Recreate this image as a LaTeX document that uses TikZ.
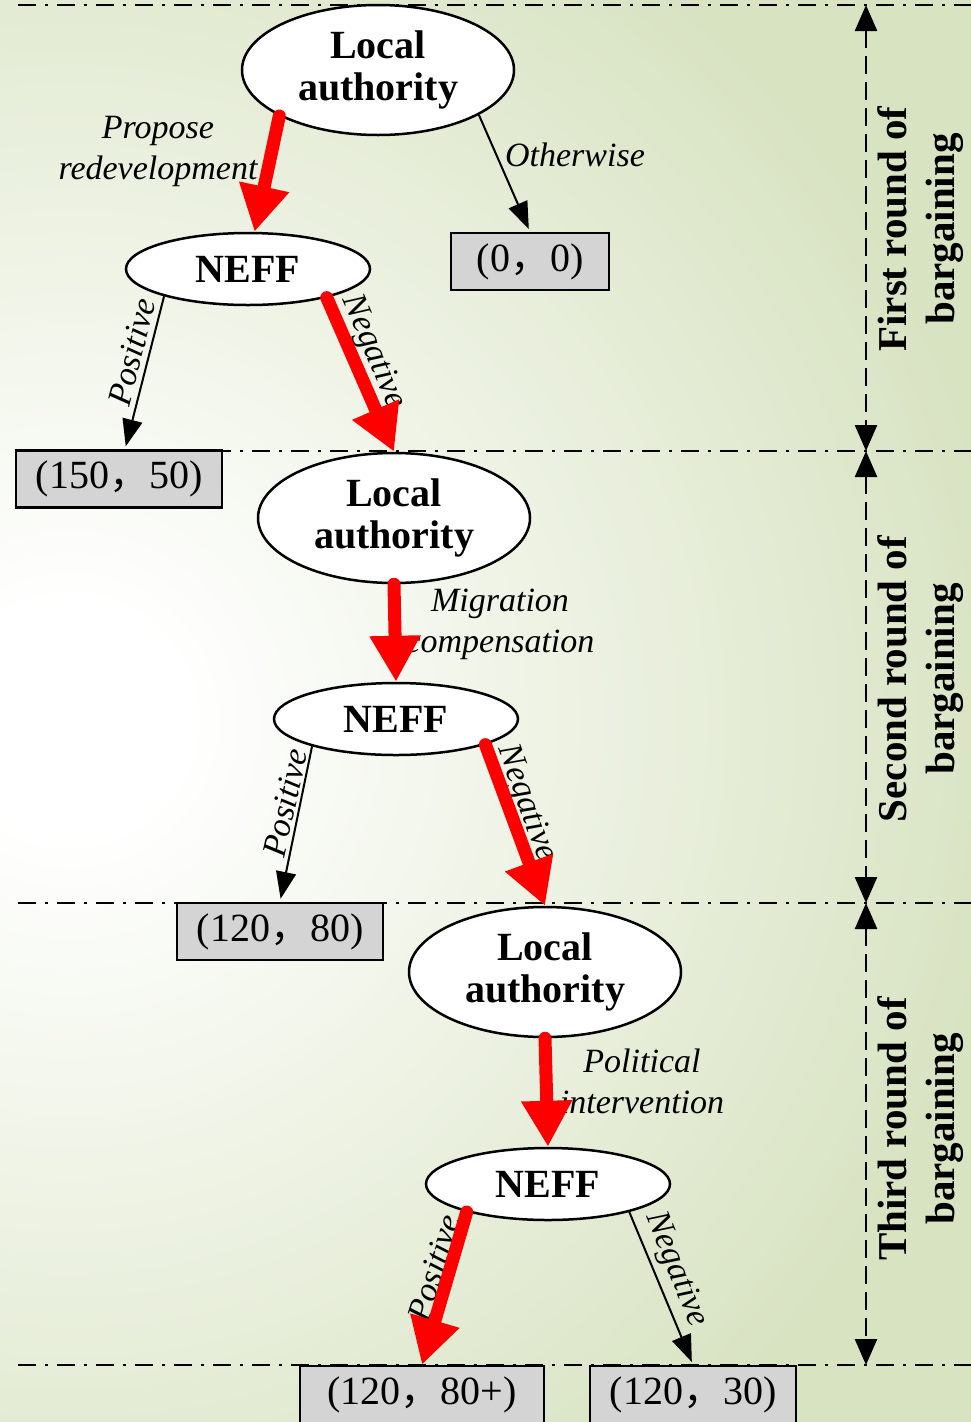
\documentclass[tikz,border=0pt]{standalone}
\usepackage{fontspec}
\setmainfont{Liberation Serif}
\newfontfamily\cjk{Noto Sans CJK SC}
\usetikzlibrary{shapes.geometric,arrows.meta}
\definecolor{bgedge}{RGB}{216,227,194}
\definecolor{boxgray}{RGB}{212,212,212}
\definecolor{arrowred}{RGB}{255,0,0}
\pgfdeclareradialshading{backglow}{\pgfpoint{0bp}{0bp}}{color(0bp)=(white); color(3bp)=(white); color(25bp)=(bgedge); color(50bp)=(bgedge)}
\newcommand{\fwcomma}{{\cjk ，}}

\begin{document}
\begin{tikzpicture}[x=1pt,y=-1pt,
  lanode/.style={ellipse, draw, line width=2.5pt, fill=white, minimum width=272pt,
    minimum height=130pt, inner sep=0pt, align=center,
    font=\fontsize{40}{42}\selectfont\bfseries},
  neffnode/.style={ellipse, draw, line width=2.5pt, fill=white, minimum width=244pt,
    minimum height=72pt, inner sep=0pt, font=\fontsize{40}{42}\selectfont\bfseries},
  payoff/.style={draw, line width=2.5pt, fill=boxgray, inner sep=0pt,
    minimum height=57pt, font=\fontsize{40}{42}\selectfont},
  edgelabel/.style={font=\fontsize{34}{41}\selectfont\itshape, align=center, inner sep=0pt},
  roundlabel/.style={font=\fontsize{41}{48}\selectfont\bfseries, align=center,
    rotate=90, inner sep=0pt},
  mainpath/.style={draw=arrowred, line width=13pt, line cap=round,
    -{Triangle[length=46pt,width=48pt]}},
  sidepath/.style={draw=black, line width=2pt, shorten >=3pt,
    -{Triangle[length=27pt,width=20pt]}},
  divider/.style={line width=2.5pt, dash pattern=on 18pt off 9pt on 3pt off 9pt},
  roundspan/.style={line width=2.5pt, dash pattern=on 18pt off 8pt,
    {Triangle[length=26pt,width=22pt]}-{Triangle[length=26pt,width=22pt]}},
]
\useasboundingbox (0,0) rectangle (971,1422);

% background glow
\fill[bgedge] (0,0) rectangle (971,1422);
\begin{scope}
  \clip (0,0) rectangle (971,1422);
  \shade[shading=backglow] (70,720) circle (950pt);
\end{scope}

% round boundaries
\coordinate (b0) at (18,5);    \coordinate (e0) at (971,5);
\coordinate (b1) at (18,451);  \coordinate (e1) at (971,451);
\coordinate (b2) at (18,903);  \coordinate (e2) at (971,903);
\coordinate (b3) at (18,1365); \coordinate (e3) at (971,1365);
\draw[divider] (b0) -- (e0);
\draw[divider] (b1) -- (e1);
\draw[divider] (b2) -- (e2);
\draw[divider] (b3) -- (e3);

\coordinate (s0) at (866,5);
\coordinate (s1) at (866,451);
\coordinate (s2) at (866,903);
\coordinate (s3) at (866,1365);
\draw[roundspan] (s0) -- (s1);
\draw[roundspan] (s1) -- (s2);
\draw[roundspan] (s2) -- (s3);

\node[roundlabel] (r1) at (921,229) {First round of\\bargaining};
\node[roundlabel] (r2) at (921,679) {Second round of\\bargaining};
\node[roundlabel] (r3) at (921,1129) {Third round of\\bargaining};

% decision nodes and payoffs
\node[lanode] (la1) at (378,70) {Local\\authority};
\node[neffnode] (neff1) at (248,269) {NEFF};
\node[payoff, minimum width=158pt] (p00) at (530,261.5) {(0\fwcomma 0)};
\node[payoff, minimum width=206pt] (p150) at (119,479) {(150\fwcomma 50)};
\node[lanode] (la2) at (394,518) {Local\\authority};
\node[neffnode] (neff2) at (396,719) {NEFF};
\node[payoff, minimum width=206pt] (p120) at (280,931.5) {(120\fwcomma 80)};
\node[lanode] (la3) at (545,972) {Local\\authority};
\node[neffnode] (neff3) at (548,1184) {NEFF};
\node[payoff, minimum width=244pt] (p80) at (422,1394.5) {(120\fwcomma 80+)};
\node[payoff, minimum width=206pt] (p30) at (693,1394.5) {(120\fwcomma 30)};

% edge labels
\node[edgelabel] (lpropose) at (158,151) {Propose\\redevelopment};
\node[edgelabel] (lother) at (575,155) {Otherwise};
\node[edgelabel, rotate=76] (lpos1) at (132,352) {Positive};
\node[edgelabel, rotate=-67] (lneg1) at (373,352) {Negative};
\node[edgelabel] (lmig) at (500,624) {Migration\\compensation};
\node[edgelabel, rotate=77.6] (lpos2) at (285,803) {Positive};
\node[edgelabel, rotate=-70] (lneg2) at (526,803) {Negative};
\node[edgelabel] (lpol) at (642,1081) {Political\\intervention};
\node[edgelabel, rotate=73] (lpos3) at (434,1268) {Positive};
\node[edgelabel, rotate=-68] (lneg3) at (676,1270) {Negative};

% moves
\draw[sidepath] (la1.-24) -- (p00.north);
\draw[sidepath] (neff1.198) -- ([xshift=6pt]p150.north);
\draw[mainpath] (la1.205) -- (neff1.80);
\draw[mainpath] (neff1.-20) -- (la2.north);
\draw[mainpath] (la2.south) -- (neff2.north);
\draw[sidepath] (neff2.198) -- (p120.north);
\draw[mainpath] (neff2.-16) -- (la3.north);
\draw[mainpath] (la3.south) -- (neff3.north);
\draw[mainpath] (neff3.199) -- (p80.north);
\draw[sidepath] (neff3.-19) -- (p30.north);
\end{tikzpicture}
\end{document}
